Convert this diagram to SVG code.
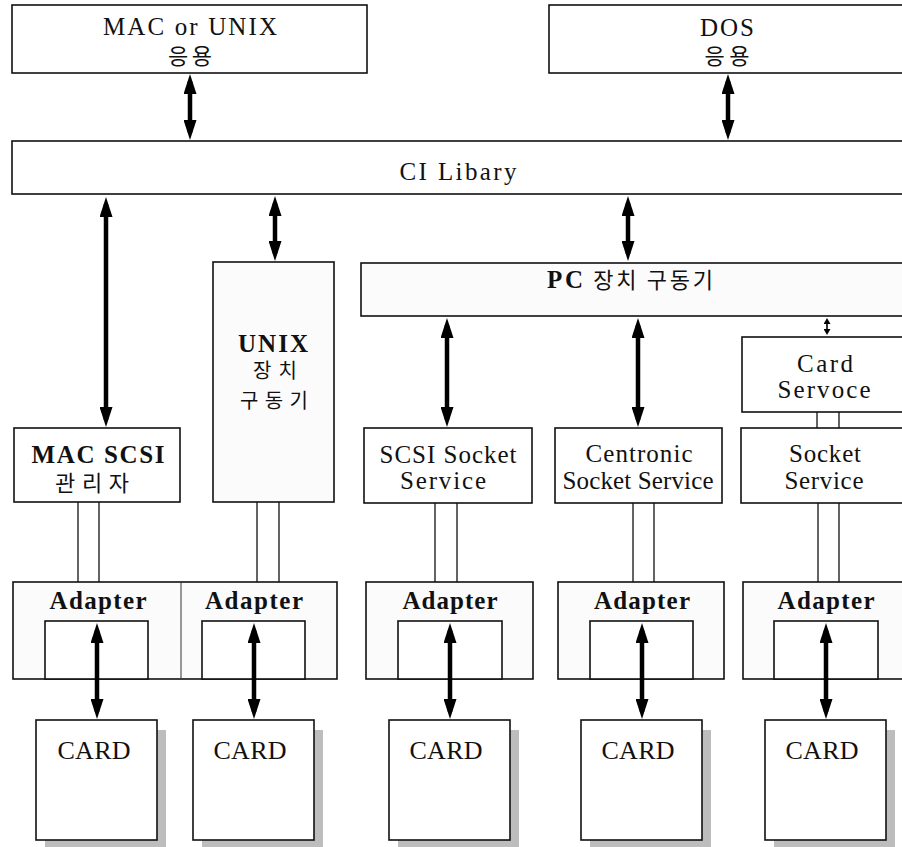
<svg xmlns="http://www.w3.org/2000/svg" width="902" height="847" viewBox="0 0 902 847">
<style>
.box{fill:#fff;stroke:#111;stroke-width:1.6}
.spk{fill:#fbfbfb;stroke:#111;stroke-width:1.6}
.t{font-family:"Liberation Serif","Noto Sans CJK KR",serif;font-size:25px;fill:#111;text-anchor:middle}
.c{font-size:26px}
.b{font-weight:bold}
.k{font-family:"Noto Sans CJK KR","Liberation Serif",sans-serif;font-size:22px;fill:#111;text-anchor:middle}
.ks{font-size:20px}
.arr{stroke:#000;stroke-width:4.5;fill:none;marker-start:url(#ah);marker-end:url(#ah)}
.arrs{stroke:#000;stroke-width:1.6;fill:none;marker-start:url(#ahs);marker-end:url(#ahs)}
.dl{stroke:#111;stroke-width:1.3;fill:none}
.shadow{fill:#bdbdbd}
</style>
<defs>
<marker id="ah" viewBox="0 0 20 13" refX="13" refY="6.5" markerWidth="20" markerHeight="13" markerUnits="userSpaceOnUse" orient="auto-start-reverse"><path d="M0,0 L20,6.5 L0,13 z" fill="#000"/></marker>
<marker id="ahs" viewBox="0 0 6 7" refX="4" refY="3.5" markerWidth="6" markerHeight="7" markerUnits="userSpaceOnUse" orient="auto-start-reverse"><path d="M0,0 L6,3.5 L0,7 z" fill="#000"/></marker>
</defs>

<g id="mac-app">
<rect class="box" x="12" y="5" width="355" height="68"/>
<text class="t" x="190" y="35" textLength="174" lengthAdjust="spacing">MAC or UNIX</text>
<text class="k" x="190" y="64" textLength="44" lengthAdjust="spacing">응용</text>
</g>
<g id="dos-app">
<rect class="box" x="549" y="5" width="360" height="68"/>
<text class="t" x="727" y="36" textLength="54" lengthAdjust="spacing">DOS</text>
<text class="k" x="727" y="64" textLength="45" lengthAdjust="spacing">응용</text>
</g>
<g id="ci-library">
<rect class="box" x="12" y="141" width="900" height="53"/>
<text class="t" x="458" y="180" textLength="117" lengthAdjust="spacing">CI Libary</text>
</g>
<g id="unix-driver">
<rect class="spk" x="213" y="262" width="121" height="240"/>
<text class="t b" x="273" y="352" textLength="70" lengthAdjust="spacing">UNIX</text>
<text class="k ks" x="275" y="378" textLength="44" lengthAdjust="spacing">장치</text>
<text class="k ks" x="274" y="408" textLength="68" lengthAdjust="spacing">구동기</text>
</g>
<g id="pc-driver">
<rect class="spk" x="361" y="263" width="550" height="53"/>
<text class="t" x="630" y="288" textLength="166" lengthAdjust="spacing"><tspan font-weight="bold">PC</tspan><tspan font-family="Noto Sans CJK KR, sans-serif" font-size="22"> 장치 구동기</tspan></text>
</g>
<g id="mac-scsi">
<rect class="box" x="14" y="428" width="166" height="74"/>
<text class="t b" x="98" y="463" textLength="133" lengthAdjust="spacing">MAC SCSI</text>
<text class="k" x="92" y="491" textLength="74" lengthAdjust="spacing">관리자</text>
</g>
<g id="scsi-socket">
<rect class="box" x="364" y="428" width="168" height="75"/>
<text class="t" x="448" y="463" textLength="137" lengthAdjust="spacing">SCSI Socket</text>
<text class="t" x="443" y="489" textLength="86" lengthAdjust="spacing">Service</text>
</g>
<g id="centronic-socket">
<rect class="box" x="555" y="428" width="167" height="75"/>
<text class="t" x="639" y="462" textLength="107" lengthAdjust="spacing">Centronic</text>
<text class="t" x="638" y="489" textLength="151" lengthAdjust="spacing">Socket Service</text>
</g>
<g id="card-service">
<rect class="box" x="742" y="337" width="170" height="75"/>
<text class="t" x="825" y="372" textLength="56" lengthAdjust="spacing">Card</text>
<text class="t" x="824" y="398" textLength="93" lengthAdjust="spacing">Servoce</text>
</g>
<g id="socket-service">
<rect class="box" x="741" y="428" width="170" height="75"/>
<text class="t" x="825" y="462" textLength="72" lengthAdjust="spacing">Socket</text>
<text class="t" x="824" y="489" textLength="79" lengthAdjust="spacing">Service</text>
</g>

<g id="adapter-mac-unix">
<rect class="spk" x="13" y="582" width="324" height="97"/>
<line x1="181" y1="582" x2="181" y2="679" stroke="#333" stroke-width="1"/>
<text class="t b" x="98" y="609" textLength="97" lengthAdjust="spacing">Adapter</text>
<text class="t b" x="254" y="609" textLength="98" lengthAdjust="spacing">Adapter</text>
<rect class="box" x="45" y="621" width="103" height="58"/>
<rect class="box" x="202" y="621" width="103" height="58"/>
</g>
<g id="adapter-scsi">
<rect class="spk" x="366" y="582" width="167" height="97"/>
<text class="t b" x="450" y="609" textLength="95" lengthAdjust="spacing">Adapter</text>
<rect class="box" x="398" y="621" width="104" height="58"/>
</g>
<g id="adapter-centronic">
<rect class="spk" x="558" y="582" width="166" height="97"/>
<text class="t b" x="642" y="609" textLength="96" lengthAdjust="spacing">Adapter</text>
<rect class="box" x="590" y="621" width="103" height="58"/>
</g>
<g id="adapter-socket">
<rect class="spk" x="743" y="582" width="170" height="97"/>
<text class="t b" x="826" y="609" textLength="97" lengthAdjust="spacing">Adapter</text>
<rect class="box" x="774" y="621" width="104" height="58"/>
</g>

<g id="card-1">
<rect class="shadow" x="45" y="730" width="121" height="117"/>
<rect class="box" x="36" y="720" width="121" height="120"/>
<text class="t c" x="94" y="759" textLength="73" lengthAdjust="spacing">CARD</text>
</g>
<g id="card-2">
<rect class="shadow" x="202" y="730" width="121" height="117"/>
<rect class="box" x="193" y="720" width="121" height="120"/>
<text class="t c" x="250" y="759" textLength="73" lengthAdjust="spacing">CARD</text>
</g>
<g id="card-3">
<rect class="shadow" x="398" y="730" width="121" height="117"/>
<rect class="box" x="389" y="720" width="121" height="120"/>
<text class="t c" x="446" y="759" textLength="73" lengthAdjust="spacing">CARD</text>
</g>
<g id="card-4">
<rect class="shadow" x="590" y="730" width="121" height="117"/>
<rect class="box" x="581" y="720" width="121" height="120"/>
<text class="t c" x="638" y="759" textLength="73" lengthAdjust="spacing">CARD</text>
</g>
<g id="card-5">
<rect class="shadow" x="774" y="730" width="121" height="117"/>
<rect class="box" x="765" y="720" width="121" height="120"/>
<text class="t c" x="822" y="759" textLength="73" lengthAdjust="spacing">CARD</text>
</g>

<g id="connectors">
<line class="arr" x1="190" y1="81" x2="190" y2="133"/>
<line class="arr" x1="728" y1="81" x2="728" y2="133"/>
<line class="arr" x1="106" y1="204" x2="106" y2="420"/>
<line class="arr" x1="275" y1="203" x2="275" y2="254"/>
<line class="arr" x1="628" y1="203" x2="628" y2="254"/>
<line class="arr" x1="447" y1="325" x2="447" y2="420"/>
<line class="arr" x1="638" y1="325" x2="638" y2="420"/>
<line class="arrs" x1="827" y1="320" x2="827" y2="333"/>
<line class="arr" x1="97" y1="630" x2="97" y2="712"/>
<line class="arr" x1="254" y1="630" x2="254" y2="712"/>
<line class="arr" x1="450" y1="630" x2="450" y2="712"/>
<line class="arr" x1="642" y1="630" x2="642" y2="712"/>
<line class="arr" x1="826" y1="630" x2="826" y2="712"/>
<path class="dl" d="M78,502 V582 M99,502 V582"/>
<path class="dl" d="M257,502 V582 M279,502 V582"/>
<path class="dl" d="M435,503 V582 M457,503 V582"/>
<path class="dl" d="M633,503 V582 M654,503 V582"/>
<path class="dl" d="M818,503 V582 M839,503 V582"/>
<path class="dl" d="M817,412 V428 M839,412 V428"/>
</g>
</svg>
